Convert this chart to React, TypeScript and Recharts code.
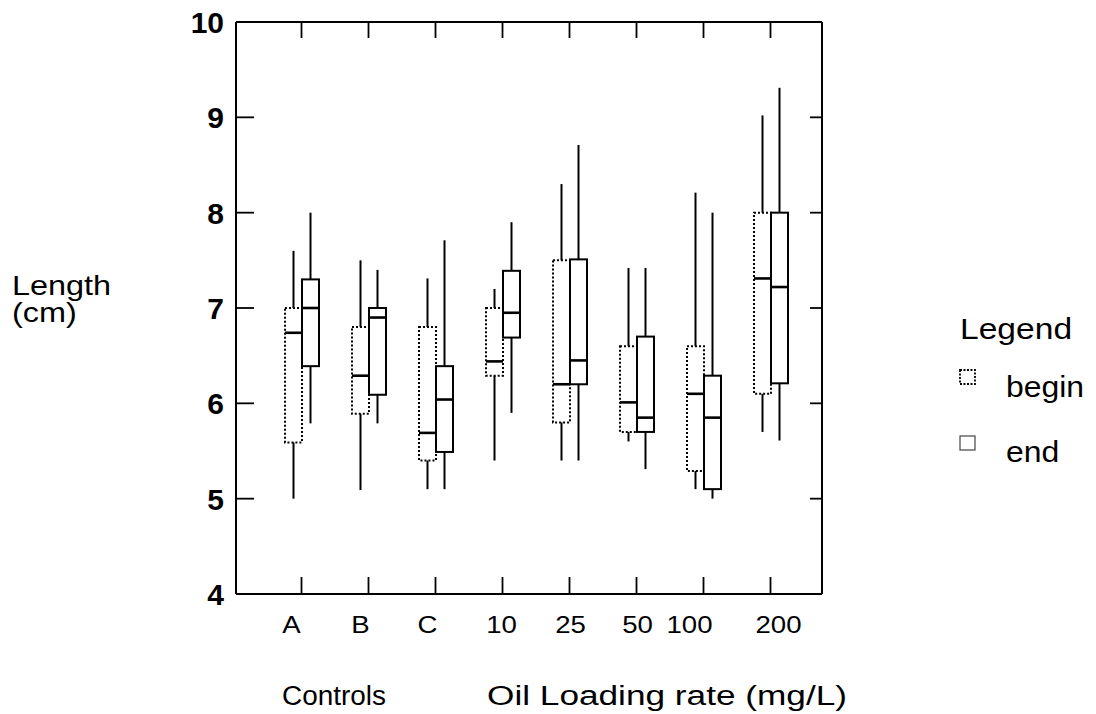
import { ComposedChart, Bar, XAxis, YAxis, Legend } from 'recharts';

const categories = ['A', 'B', 'C', '10', '25', '50', '100', '200'];

// begin (dotted boxes)
const beginMin = [5.0, 5.09, 5.1, 5.4, 5.4, 5.6, 5.1, 5.7];
const beginQ1 = [5.59, 5.89, 5.4, 6.29, 5.8, 5.7, 5.29, 6.1];
const beginMedian = [6.74, 6.29, 5.69, 6.44, 6.2, 6.01, 6.1, 7.31];
const beginQ3 = [7.0, 6.8, 6.8, 7.0, 7.5, 6.6, 6.6, 8.0];
const beginMax = [7.6, 7.5, 7.31, 7.2, 8.3, 7.42, 8.21, 9.02];

// end (solid boxes)
const endMin = [5.79, 5.79, 5.1, 5.9, 5.4, 5.31, 5.0, 5.61];
const endQ1 = [6.39, 6.09, 5.49, 6.69, 6.2, 5.7, 5.1, 6.21];
const endMedian = [7.0, 6.9, 6.04, 6.95, 6.45, 5.85, 5.85, 7.22];
const endQ3 = [7.3, 7.0, 6.39, 7.39, 7.51, 6.7, 6.29, 8.0];
const endMax = [8.0, 7.4, 7.71, 7.9, 8.71, 7.42, 8.0, 9.31];

const yTicks = [4, 5, 6, 7, 8, 9, 10];
const seriesNames = ['begin', 'end'];

// small horizontal nudges of the category labels, as in the scan
const labelNudge = [-10, -8, -8, -1, 1, 1, -14, 8];

const FONT = '"Liberation Sans", Arial, sans-serif';

const data = categories.map((cat, i) => ({
  cat,
  begin: [beginQ1[i], beginQ3[i]],
  end: [endQ1[i], endQ3[i]],
  beginStats: { min: beginMin[i], q1: beginQ1[i], med: beginMedian[i], q3: beginQ3[i], max: beginMax[i] },
  endStats: { min: endMin[i], q1: endQ1[i], med: endMedian[i], q3: endQ3[i], max: endMax[i] },
}));

function BoxShape(props: any) {
  const { x, y, width, height, payload, kind } = props;
  const s = kind === 'begin' ? payload.beginStats : payload.endStats;
  const top = Math.min(y, y + height);
  const h = Math.abs(height);
  const ppu = h / (s.q3 - s.q1);
  const py = (v: number) => top + (s.q3 - v) * ppu;
  const cx = x + width / 2;
  const dashed = kind === 'begin';
  return (
    <g>
      <line x1={cx} x2={cx} y1={py(s.q3)} y2={py(s.max)} stroke="#000" strokeWidth={2} />
      <line x1={cx} x2={cx} y1={py(s.q1)} y2={py(s.min)} stroke="#000" strokeWidth={2} />
      <rect
        x={x}
        y={top}
        width={width}
        height={h}
        fill="none"
        stroke="#000"
        strokeWidth={2}
        strokeDasharray={dashed ? '2 2' : undefined}
      />
      <line x1={x} x2={x + width} y1={py(s.med)} y2={py(s.med)} stroke="#000" strokeWidth={2.6} />
    </g>
  );
}

const EmptyTick = () => <g />;

function XTick(props: any) {
  const { x, y, payload, index } = props;
  const nudge = labelNudge[index] ?? 0;
  return (
    <text
      transform={`translate(${x + nudge}, ${y + 39}) scale(1.15, 1)`}
      textAnchor="middle"
      fontSize={24}
      fontFamily={FONT}
      fill="#000"
    >
      {payload.value}
    </text>
  );
}

function YTick(props: any) {
  const { x, y, payload } = props;
  return (
    <text x={x} y={y + 11} textAnchor="end" fontSize={30} fontWeight="bold" fontFamily={FONT} fill="#000">
      {payload.value}
    </text>
  );
}

function BottomTitles() {
  return (
    <g fontFamily={FONT} fontSize={27} fill="#000">
      <text x={282} y={705} textLength={104} lengthAdjust="spacingAndGlyphs">Controls</text>
      <text x={487} y={705} textLength={360} lengthAdjust="spacingAndGlyphs">Oil Loading rate (mg/L)</text>
    </g>
  );
}

function YTitle() {
  return (
    <g fontFamily={FONT} fontSize={27} fill="#000">
      <text transform="translate(12, 295) scale(1.2, 1)">Length</text>
      <text transform="translate(12, 322) scale(1.2, 1)">(cm)</text>
    </g>
  );
}

function LegendBox(props: any) {
  const items = (props.payload ?? []).map((p: any) => p.value);
  const names = items.length ? items : seriesNames;
  return (
    <svg width={150} height={180} style={{ overflow: 'visible' }}>
      <text transform="translate(10, 39) scale(1.12, 1)" fontSize={30} fontFamily={FONT} fill="#000">Legend</text>
      {names.map((n: string, i: number) => (
        <g key={n}>
          <rect
            x={10}
            y={70 + i * 66}
            width={15}
            height={14}
            fill="none"
            stroke={i === 0 ? '#000' : '#444'}
            strokeWidth={i === 0 ? 1.8 : 1.2}
            strokeDasharray={i === 0 ? '2 1.5' : undefined}
          />
          <text
            transform={`translate(56, ${97 + i * 65}) scale(1.1, 1)`}
            fontSize={29}
            fontFamily={FONT}
            fill="#000"
          >
            {n}
          </text>
        </g>
      ))}
    </svg>
  );
}

export default function App() {
  return (
    <div style={{ position: 'absolute', left: 0, top: 0, width: 1096, height: 714, background: '#fff' }}>
      <ComposedChart
        width={1096}
        height={714}
        data={data}
        margin={{ top: 22, right: 274, bottom: 119, left: 235 }}
        barGap={0}
      >
        <XAxis
          xAxisId="main"
          dataKey="cat"
          type="category"
          height={1}
          interval={0}
          padding={{ left: 32, right: 18 }}
          axisLine={{ stroke: '#000', strokeWidth: 2 }}
          tickLine={false}
          tickSize={0}
          tickMargin={0}
          tick={<XTick />}
          label={<BottomTitles />}
        />
        <XAxis
          xAxisId="bottomTicks"
          dataKey="cat"
          type="category"
          height={1}
          interval={0}
          mirror
          padding={{ left: 32, right: 18 }}
          axisLine={false}
          tickLine={{ stroke: '#000', strokeWidth: 1.8 }}
          tickSize={17}
          tick={EmptyTick}
        />
        <XAxis
          xAxisId="topTicks"
          dataKey="cat"
          type="category"
          orientation="top"
          height={1}
          interval={0}
          mirror
          padding={{ left: 32, right: 18 }}
          axisLine={{ stroke: '#000', strokeWidth: 2 }}
          tickLine={{ stroke: '#000', strokeWidth: 1.8 }}
          tickSize={16}
          tick={EmptyTick}
        />
        <YAxis
          yAxisId="main"
          type="number"
          domain={[4, 10]}
          ticks={yTicks}
          allowDataOverflow
          width={1}
          axisLine={{ stroke: '#000', strokeWidth: 2 }}
          tickLine={false}
          tickSize={0}
          tickMargin={12}
          tick={<YTick />}
          label={<YTitle />}
        />
        <YAxis
          yAxisId="leftTicks"
          type="number"
          domain={[4, 10]}
          ticks={yTicks}
          allowDataOverflow
          width={1}
          mirror
          axisLine={false}
          tickLine={{ stroke: '#000', strokeWidth: 1.8 }}
          tickSize={18}
          tick={EmptyTick}
        />
        <YAxis
          yAxisId="rightTicks"
          orientation="right"
          type="number"
          domain={[4, 10]}
          ticks={yTicks}
          allowDataOverflow
          width={1}
          mirror
          axisLine={{ stroke: '#000', strokeWidth: 2 }}
          tickLine={{ stroke: '#000', strokeWidth: 1.8 }}
          tickSize={12}
          tick={EmptyTick}
        />
        <Legend
          layout="vertical"
          align="center"
          verticalAlign="middle"
          content={<LegendBox />}
          wrapperStyle={{ position: 'absolute', left: 950, top: 300, width: 150, height: 180 }}
        />
        <Bar
          xAxisId="main"
          yAxisId="main"
          dataKey="begin"
          name={seriesNames[0]}
          barSize={17}
          isAnimationActive={false}
          shape={(p: any) => <BoxShape {...p} kind="begin" />}
        />
        <Bar
          xAxisId="main"
          yAxisId="main"
          dataKey="end"
          name={seriesNames[1]}
          barSize={17}
          isAnimationActive={false}
          shape={(p: any) => <BoxShape {...p} kind="end" />}
        />
      </ComposedChart>
    </div>
  );
}
